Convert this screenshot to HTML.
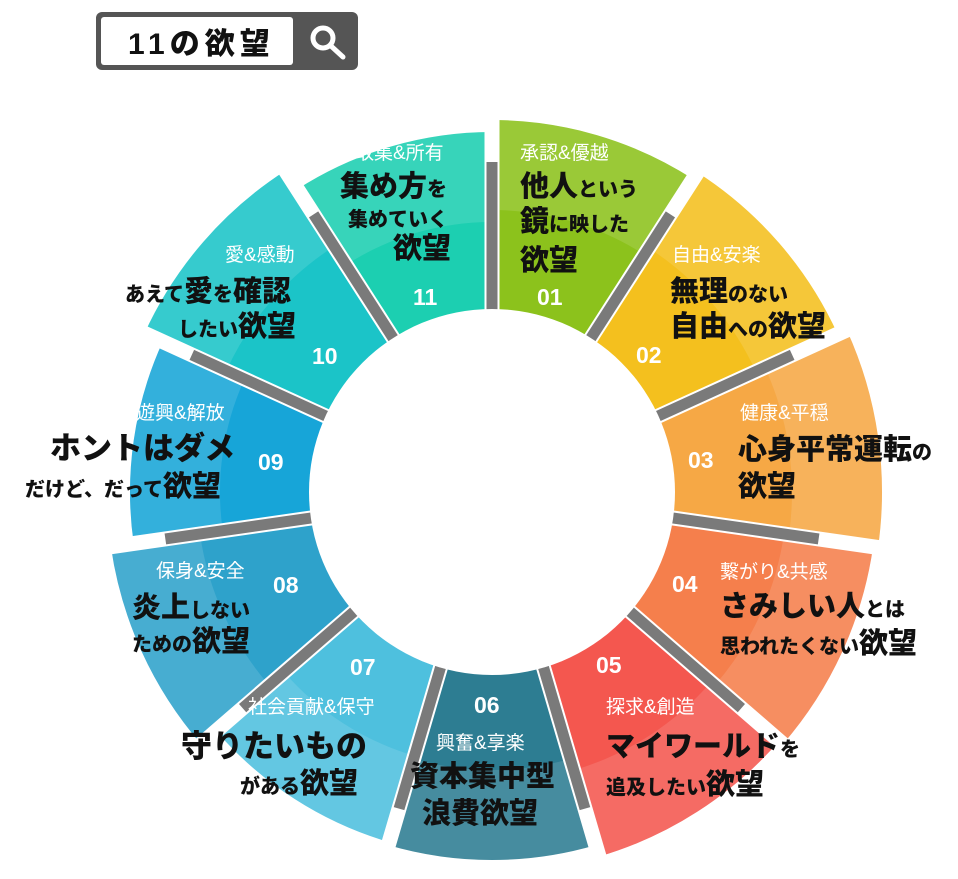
<!DOCTYPE html>
<html><head><meta charset="utf-8">
<style>
html,body{margin:0;padding:0;background:#fff;}
svg{display:block;}
text{font-family:"Liberation Sans","Noto Sans CJK JP",sans-serif;}
.w{fill:#fff;font-size:19px;font-weight:400;}
.b{fill:#111;font-weight:900;font-size:29px;}
.s{font-size:20px;}
.n{fill:#fff;font-weight:700;font-size:23px;}
</style></head>
<body>
<svg id="s" width="958" height="879" viewBox="0 0 958 879" xmlns="http://www.w3.org/2000/svg">
<g id="wedges"></g>
<circle cx="492" cy="492" r="183" fill="#fff"/>
<rect x="96" y="12" width="262" height="58" rx="6" fill="#555"/>
<rect x="101" y="17" width="192" height="48" rx="3" fill="#fff"/>
<text x="128" y="54" style="font-size:30px;font-weight:900;fill:#111;letter-spacing:5px">11の欲望</text>
<circle cx="323" cy="38" r="10" fill="none" stroke="#fff" stroke-width="5"/>
<line x1="331" y1="46" x2="343" y2="57" stroke="#fff" stroke-width="5" stroke-linecap="round"/>

<text class="w" x="355" y="159">取集&amp;所有</text>
<text class="b" x="340" y="196">集め方<tspan class="s">を</tspan></text>
<text class="b s" x="348" y="226">集めていく</text>
<text class="b" x="393" y="258">欲望</text>
<text class="n" x="413" y="305">11</text>

<text class="w" x="520" y="159">承認&amp;優越</text>
<text class="b" x="520" y="196">他人<tspan class="s">という</tspan></text>
<text class="b" x="520" y="231">鏡<tspan class="s">に映した</tspan></text>
<text class="b" x="520" y="270">欲望</text>
<text class="n" x="537" y="305">01</text>

<text class="w" x="672" y="261">自由&amp;安楽</text>
<text class="b" x="670" y="301">無理<tspan class="s">のない</tspan></text>
<text class="b" x="670" y="336">自由<tspan class="s">への</tspan>欲望</text>
<text class="n" x="636" y="363">02</text>

<text class="w" x="740" y="419">健康&amp;平穏</text>
<text class="b" x="738" y="459">心身平常運転<tspan class="s">の</tspan></text>
<text class="b" x="738" y="496">欲望</text>
<text class="n" x="688" y="468">03</text>

<text class="w" x="720" y="578">繋がり&amp;共感</text>
<text class="b" x="720" y="616">さみしい人<tspan class="s">とは</tspan></text>
<text class="b" x="720" y="653"><tspan class="s">思われたくない</tspan>欲望</text>
<text class="n" x="672" y="592">04</text>

<text class="w" x="606" y="713">探求&amp;創造</text>
<text class="b" x="606" y="756">マイワールド<tspan class="s">を</tspan></text>
<text class="b" x="606" y="794"><tspan class="s">追及したい</tspan>欲望</text>
<text class="n" x="596" y="673">05</text>

<text class="n" x="474" y="713">06</text>
<text class="w" x="436" y="749">興奮&amp;享楽</text>
<text class="b" x="410" y="786">資本集中型</text>
<text class="b" x="422" y="823">浪費欲望</text>

<text class="n" x="350" y="675">07</text>
<text class="w" x="248" y="713">社会貢献&amp;保守</text>
<text class="b" x="181" y="757" style="font-size:31px">守りたいもの</text>
<text class="b" x="240" y="793"><tspan class="s">がある</tspan>欲望</text>

<text class="n" x="273" y="593">08</text>
<text class="w" x="156" y="577">保身&amp;安全</text>
<text class="b" x="132" y="617">炎上<tspan class="s">しない</tspan></text>
<text class="b" x="132" y="651"><tspan class="s">ための</tspan>欲望</text>

<text class="w" x="136" y="419">遊興&amp;解放</text>
<text class="b" x="50" y="459" style="font-size:31px">ホントはダメ</text>
<text class="b" x="25" y="496"><tspan class="s">だけど、だって</tspan>欲望</text>
<text class="n" x="258" y="470">09</text>

<text class="w" x="225" y="261">愛&amp;感動</text>
<text class="b" x="125" y="301"><tspan class="s">あえて</tspan>愛<tspan class="s">を</tspan>確認</text>
<text class="b" x="178" y="336"><tspan class="s">したい</tspan>欲望</text>
<text class="n" x="312" y="364">10</text>
</svg>
<script>
(function(){
var cx=492,cy=492,ri=183,N=11,step=360/N;
var cols=["#8cc21c","#f4c01e","#f6a845","#f57f4c","#f4574f","#2d7d92","#4ec0de","#2ea2cb","#17a5d8","#1bc4c8","#1ccfb1"];
var R=[372,380,390,385,380,368,365,385,362,382,360];
var g=document.getElementById('wedges'),ns="http://www.w3.org/2000/svg";
function pt(r,a){a=a*Math.PI/180;return [cx+r*Math.sin(a),cy-r*Math.cos(a)];}
function arc(r1,r2,a1,a2){var p1=pt(r2,a1),p2=pt(r2,a2),p3=pt(r1,a2),p4=pt(r1,a1);
return "M"+p1+" A"+r2+" "+r2+" 0 0 1 "+p2+" L"+p3+" A"+r1+" "+r1+" 0 0 0 "+p4+"Z";}
function add(tag,attrs){var e=document.createElementNS(ns,tag);for(var k in attrs)e.setAttribute(k,attrs[k]);g.appendChild(e);return e;}
for(var i=0;i<N;i++){
 var a1=i*step,a2=(i+1)*step;
 add('path',{d:arc(ri-2,R[i],a1,a2),fill:cols[i]});
 add('path',{d:arc(R[i]-90,R[i],a1,a2),fill:"#fff",'fill-opacity':"0.12"});
}
for(var i=0;i<N;i++){
 var a=i*step;
 var p=pt(ri-5,a),q=pt(430,a);
 add('line',{x1:p[0],y1:p[1],x2:q[0],y2:q[1],stroke:"#fff",'stroke-width':15});
 var q2=pt(330,a);
 add('line',{x1:p[0],y1:p[1],x2:q2[0],y2:q2[1],stroke:"#7a7a7a",'stroke-width':11});
}
})();
</script>
</body></html>
